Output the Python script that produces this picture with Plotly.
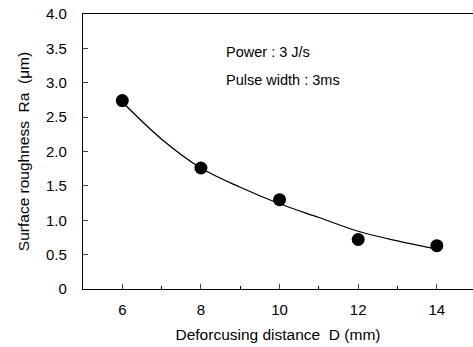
import plotly.graph_objects as go

dist = [6, 8, 10, 12, 14]
ra = [2.74, 1.76, 1.30, 0.72, 0.63]
fit_x = [6, 7, 8, 9, 10, 11, 12, 13, 14]
fit_y = [2.72, 2.18, 1.76, 1.48, 1.24, 1.04, 0.84, 0.70, 0.58]
y_ticks = [0, 0.5, 1.0, 1.5, 2.0, 2.5, 3.0, 3.5, 4.0]
y_labels = ["0", "0.5", "1.0", "1.5", "2.0", "2.5", "3.0", "3.5", "4.0"]
x_ticks = [6, 8, 10, 12, 14]

font = "Liberation Sans, Arial, sans-serif"
fig = go.Figure()
fig.add_trace(go.Scatter(x=fit_x, y=fit_y, mode="lines",
                         line=dict(color="black", width=1.3, shape="spline"),
                         showlegend=False, hoverinfo="skip"))
fig.add_trace(go.Scatter(x=dist, y=ra, mode="markers",
                         marker=dict(color="black", size=13),
                         showlegend=False))
fig.update_layout(
    width=473, height=347,
    margin=dict(l=83, r=0, t=14, b=58),
    plot_bgcolor="white", paper_bgcolor="white",
    font=dict(family=font, size=12, color="black"),
    xaxis=dict(range=[5, 14.92], tickvals=x_ticks, ticks="inside", ticklen=5,
               showline=True, linecolor="black", linewidth=1.2, mirror=True,
               showgrid=False, zeroline=False, ticklabelstandoff=7,
               minor=dict(ticks="inside", ticklen=3, dtick=1, tick0=5, tickcolor="black"),
               title=dict(text="Deforcusing distance  D (mm)", standoff=12,
                          font=dict(size=15.5)),
               tickfont=dict(size=15)),
    yaxis=dict(range=[0, 4.0], tickvals=y_ticks, ticktext=y_labels,
               ticks="inside", ticklen=5, ticklabelstandoff=12,
               showline=True, linecolor="black", linewidth=1.2, mirror=False,
               showgrid=False, zeroline=False,
               title=dict(text="Surface roughness  Ra  (μm)", standoff=12,
                          font=dict(size=15.5)),
               tickfont=dict(size=15)),
    annotations=[
        dict(x=224, y=52, xref="paper", yref="paper", text="Power : 3 J/s",
             showarrow=False, xanchor="left", yanchor="middle", font=dict(size=14.5)),
        dict(x=224, y=80, xref="paper", yref="paper", text="Pulse width : 3ms",
             showarrow=False, xanchor="left", yanchor="middle", font=dict(size=14.5)),
    ],
)
# convert annotation pixel positions to paper coords
pw = 473 - 83
ph = 347 - 14 - 58
for a in fig.layout.annotations:
    a.x = (a.x - 83) / pw
    a.y = 1 - (a.y - 14) / ph
fig.write_html("out.html")
